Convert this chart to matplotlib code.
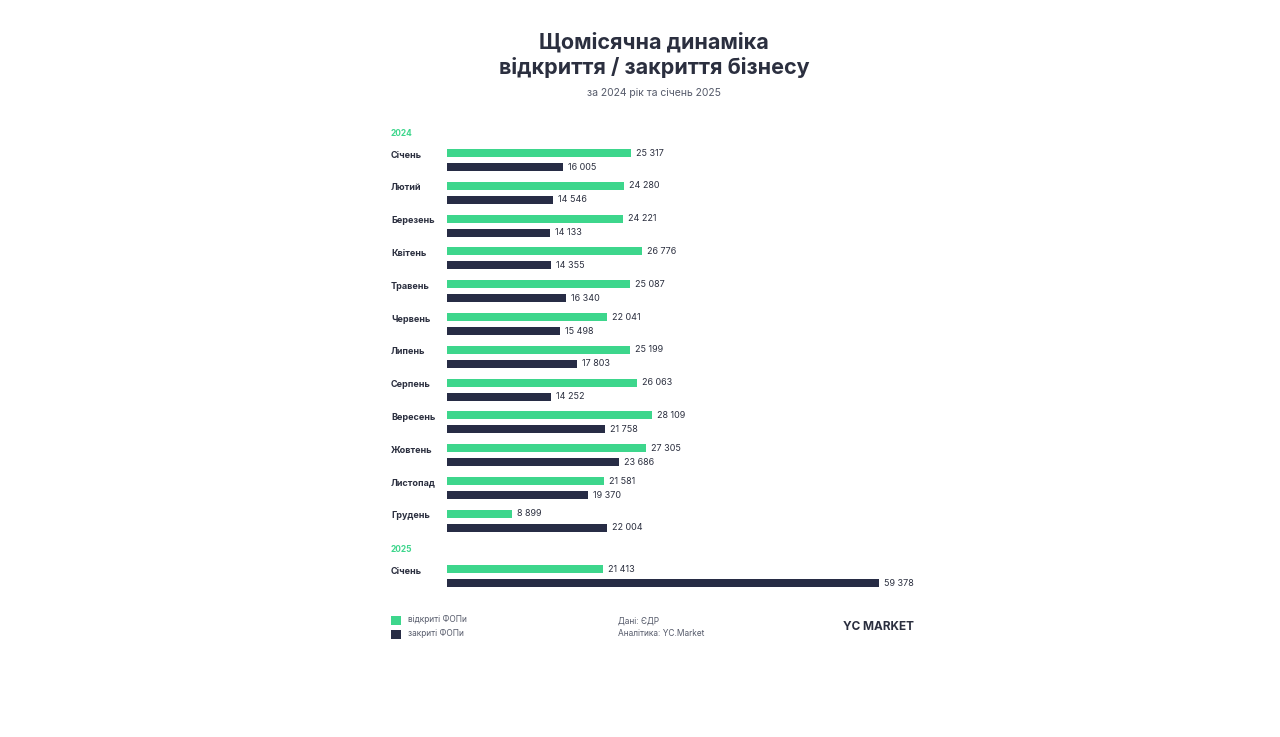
import matplotlib.pyplot as plt

plt.rcParams['font.family'] = ['Inter', 'DejaVu Sans']

months_2024 = ['Січень', 'Лютий', 'Березень', 'Квітень', 'Травень', 'Червень',
               'Липень', 'Серпень', 'Вересень', 'Жовтень', 'Листопад', 'Грудень']
opened_2024 = [25317, 24280, 24221, 26776, 25087, 22041, 25199, 26063, 28109, 27305, 21581, 8899]
closed_2024 = [16005, 14546, 14133, 14355, 16340, 15498, 17803, 14252, 21758, 23686, 19370, 22004]
months_2025 = ['Січень']
opened_2025 = [21413]
closed_2025 = [59378]

GREEN = '#3dd68c'
NAVY = '#272c45'
TEXT = '#2b2f3f'


def fmt(v):
    return f"{v:,}".replace(',', ' ')


fig = plt.figure(figsize=(12.8, 7.37), dpi=100)
ax = fig.add_axes([0, 0, 1, 1])
ax.set_xlim(0, 1280)
ax.set_ylim(737, 0)
ax.axis('off')

x0 = 447
scale = 432 / 59378
bar_h = 8


def draw_month(label, op, cl, y):
    ax.text(391, y + 2, label, fontsize=6.5, fontweight='bold', color=TEXT, va='center')
    for val, yy, col in [(op, y, GREEN), (cl, y + 14, NAVY)]:
        w = val * scale
        ax.barh(yy, w, left=x0, height=bar_h, color=col)
        ax.text(x0 + w + 5, yy, fmt(val), fontsize=6.5, color=TEXT, va='center')


ax.text(391, 133, '2024', fontsize=6, color=GREEN, fontweight='bold', va='center')
for i, (m, o, c) in enumerate(zip(months_2024, opened_2024, closed_2024)):
    draw_month(m, o, c, 153 + i * 32.8)
ax.text(391, 549, '2025', fontsize=6, color=GREEN, fontweight='bold', va='center')
for m, o, c in zip(months_2025, opened_2025, closed_2025):
    draw_month(m, o, c, 569)

ax.text(654, 55, 'Щомісячна динаміка\nвідкриття / закриття бізнесу', fontsize=15.5,
        fontweight='bold', color=TEXT, ha='center', va='center', linespacing=1.25)
ax.text(654, 93, 'за 2024 рік та січень 2025', fontsize=7.5, color='#555a6a',
        ha='center', va='center')

# legend
ax.barh(620, 10, left=391, height=9, color=GREEN)
ax.barh(634, 10, left=391, height=9, color=NAVY)
ax.text(408, 620, 'відкриті ФОПи', fontsize=6, color='#555a6a', va='center')
ax.text(408, 634, 'закриті ФОПи', fontsize=6, color='#555a6a', va='center')
ax.text(618, 621, 'Дані: ЄДР', fontsize=6, color='#555a6a', va='center')
ax.text(618, 634, 'Аналітика: YC.Market', fontsize=6, color='#555a6a', va='center')
ax.text(914, 627, 'YC MARKET', fontsize=8.5, fontweight='bold', color=TEXT,
        ha='right', va='center')

fig.savefig('out.png', dpi=100, facecolor='white')
